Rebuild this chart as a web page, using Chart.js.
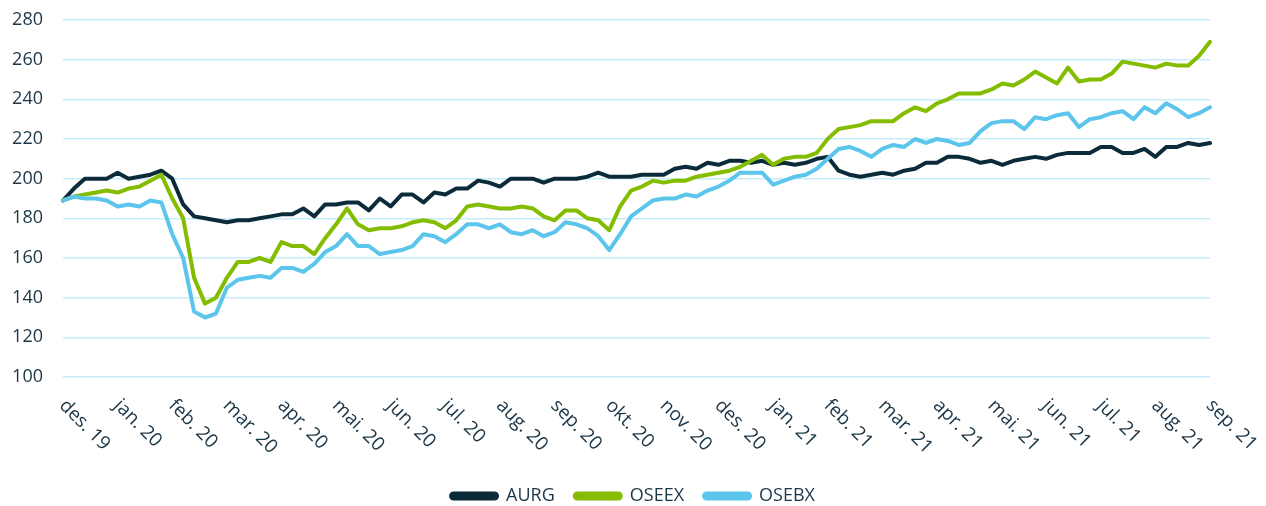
<!DOCTYPE html>
<html>
<head>
<meta charset="utf-8">
<script src="https://cdn.jsdelivr.net/npm/chart.js@4.4.1/dist/chart.umd.min.js"></script>
<style>
  html, body { margin: 0; padding: 0; background: #fff; }
  #wrap { width: 1266px; height: 506px; }
</style>
</head>
<body>
<div id="wrap"><canvas id="chart"></canvas></div>
<script>
// Month labels under the x axis (5 samples per month)
const months = ['des. 19', 'jan. 20', 'feb. 20', 'mar. 20', 'apr. 20', 'mai. 20', 'jun. 20', 'jul. 20',
    'aug. 20', 'sep. 20', 'okt. 20', 'nov. 20', 'des. 20', 'jan. 21', 'feb. 21', 'mar. 21', 'apr. 21',
    'mai. 21', 'jun. 21', 'jul. 21', 'aug. 21', 'sep. 21'];
const samplesPerMonth = 5;

const aurg = [189, 195, 200, 200, 200, 203, 200, 201, 202, 204,
    200, 187, 181, 180, 179, 178, 179, 179, 180, 181,
    182, 182, 185, 181, 187, 187, 188, 188, 184, 190,
    186, 192, 192, 188, 193, 192, 195, 195, 199, 198,
    196, 200, 200, 200, 198, 200, 200, 200, 201, 203,
    201, 201, 201, 202, 202, 202, 205, 206, 205, 208,
    207, 209, 209, 208, 209, 207, 208, 207, 208, 210,
    211, 204, 202, 201, 202, 203, 202, 204, 205, 208,
    208, 211, 211, 210, 208, 209, 207, 209, 210, 211,
    210, 212, 213, 213, 213, 216, 216, 213, 213, 215,
    211, 216, 216, 218, 217, 218];

const oseex = [189, 191, 192, 193, 194, 193, 195, 196, 199, 202,
    190, 180, 150, 137, 140, 150, 158, 158, 160, 158,
    168, 166, 166, 162, 170, 177, 185, 177, 174, 175,
    175, 176, 178, 179, 178, 175, 179, 186, 187, 186,
    185, 185, 186, 185, 181, 179, 184, 184, 180, 179,
    174, 186, 194, 196, 199, 198, 199, 199, 201, 202,
    203, 204, 206, 209, 212, 207, 210, 211, 211, 213,
    220, 225, 226, 227, 229, 229, 229, 233, 236, 234,
    238, 240, 243, 243, 243, 245, 248, 247, 250, 254,
    251, 248, 256, 249, 250, 250, 253, 259, 258, 257,
    256, 258, 257, 257, 262, 269];

const osebx = [189, 191, 190, 190, 189, 186, 187, 186, 189, 188,
    172, 160, 133, 130, 132, 145, 149, 150, 151, 150,
    155, 155, 153, 157, 163, 166, 172, 166, 166, 162,
    163, 164, 166, 172, 171, 168, 172, 177, 177, 175,
    177, 173, 172, 174, 171, 173, 178, 177, 175, 171,
    164, 172, 181, 185, 189, 190, 190, 192, 191, 194,
    196, 199, 203, 203, 203, 197, 199, 201, 202, 205,
    210, 215, 216, 214, 211, 215, 217, 216, 220, 218,
    220, 219, 217, 218, 224, 228, 229, 229, 225, 231,
    230, 232, 233, 226, 230, 231, 233, 234, 230, 236,
    233, 238, 235, 231, 233, 236];

const yMin = 100;
const yMax = 280;
const yStep = 20;

const textColor = '#1b3646';
const gridColor = '#c8ecfa';
const fontFamily = '"Open Sans", "Noto Sans", sans-serif';

// one label slot per sample, month name on the first sample of each month
const labels = [];
for (let i = 0; i < aurg.length; i++) {
    labels.push(i % samplesPerMonth === 0 ? months[i / samplesPerMonth] : '');
}

// x labels go down to the right, which Chart.js can't do itself
const monthLabels = {
    id: 'monthLabels',
    afterDraw(chart) {
        const xScale = chart.scales.x;
        const c = chart.ctx;
        c.save();
        c.font = '19px ' + fontFamily;
        c.fillStyle = textColor;
        c.textAlign = 'left';
        c.textBaseline = 'top';
        chart.data.labels.forEach((label, i) => {
            if (!label) return;
            c.save();
            c.translate(xScale.getPixelForValue(i) + 6, chart.chartArea.bottom + 19);
            c.rotate(Math.PI / 4);
            c.fillText(label, 0, 0);
            c.restore();
        });
        c.restore();
    }
};

function lineSet(label, data, color, order) {
    return {
        label: label,
        data: data,
        borderColor: color,
        backgroundColor: color,
        borderWidth: 4,
        pointRadius: 0,
        tension: 0,
        borderJoinStyle: 'round',
        borderCapStyle: 'round',
        order: order
    };
}

const ctx = document.getElementById('chart').getContext('2d');
const chart = new Chart(ctx, {
    type: 'line',
    data: {
        labels: labels,
        datasets: [
            lineSet('AURG', aurg, '#0c2b3a', 3),
            lineSet('OSEEX', oseex, '#84bd00', 2),
            lineSet('OSEBX', osebx, '#5bc5eb', 1)
        ]
    },
    options: {
        responsive: true,
        maintainAspectRatio: false,
        animation: false,
        layout: {
            autoPadding: false,
            padding: { top: 20, right: 0, left: 0, bottom: -9 }
        },
        plugins: {
            tooltip: { enabled: false },
            legend: {
                position: 'bottom',
                labels: {
                    boxWidth: 46,
                    boxHeight: 5,
                    useBorderRadius: true,
                    borderRadius: 2.5,
                    padding: 20,
                    color: textColor,
                    font: { family: fontFamily, size: 18 },
                    sort: (a, b) => a.datasetIndex - b.datasetIndex
                }
            }
        },
        scales: {
            x: {
                offset: false,
                border: { display: false },
                grid: { display: false },
                ticks: { display: false },
                afterFit: (scale) => { scale.height = 90; }
            },
            y: {
                min: yMin,
                max: yMax,
                border: { display: false },
                grid: { color: gridColor, lineWidth: 1.5, drawTicks: false },
                ticks: {
                    stepSize: yStep,
                    padding: 20,
                    color: textColor,
                    font: { family: fontFamily, size: 18 }
                },
                afterFit: (scale) => {
                    scale.width = 63;
                    // tick padding would otherwise push the top gridline down
                    scale.paddingTop = 0;
                    scale.paddingBottom = 0;
                }
            },
            // empty right axis, only keeps space right of the plot so the legend stays centred on the page
            yRight: {
                position: 'right',
                min: yMin,
                max: yMax,
                border: { display: false },
                grid: { display: false },
                ticks: { display: false },
                afterFit: (scale) => {
                    scale.width = 56;
                    scale.paddingTop = 0;
                    scale.paddingBottom = 0;
                }
            }
        }
    },
    plugins: [monthLabels]
});
</script>
</body>
</html>
